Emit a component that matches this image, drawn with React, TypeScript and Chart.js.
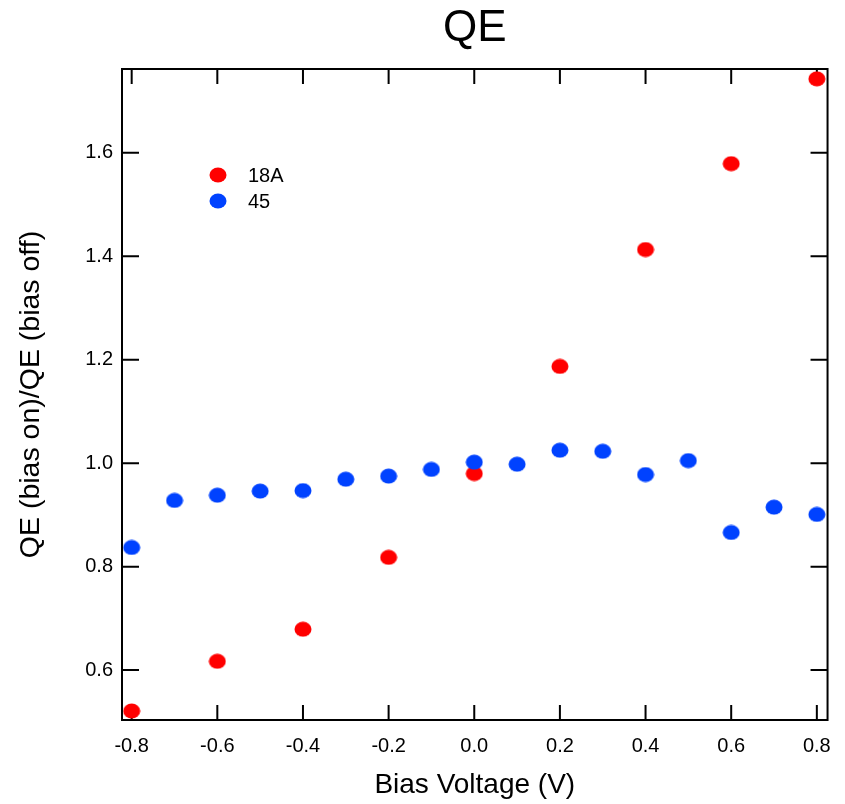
import React, { useEffect, useRef } from "react";
import { Chart, registerables } from "chart.js";

Chart.register(...registerables);

// ---- data ----
const seriesNames = ["18A", "45"];
const biasA = [-0.8, -0.6, -0.4, -0.2, 0.0, 0.2, 0.4, 0.6, 0.8];
const qeA = [0.521, 0.617, 0.679, 0.818, 0.98, 1.187, 1.413, 1.579, 1.743];
const bias45 = [-0.8, -0.7, -0.6, -0.5, -0.4, -0.3, -0.2, -0.1, 0.0, 0.1, 0.2, 0.3, 0.4, 0.5, 0.6, 0.7, 0.8];
const qe45 = [0.837, 0.928, 0.938, 0.946, 0.947, 0.969, 0.975, 0.988, 1.002, 0.998, 1.025, 1.023, 0.978, 1.005, 0.866, 0.915, 0.901];
const xTicks = [-0.8, -0.6, -0.4, -0.2, 0.0, 0.2, 0.4, 0.6, 0.8];
const yTicks = [0.6, 0.8, 1.0, 1.2, 1.4, 1.6];
const xRange = [-0.8226, 0.825];
const yRange = [0.5035, 1.762];
const titleText = "QE";
const xTitle = "Bias Voltage (V)";
const yTitle = "QE (bias on)/QE (bias off)";

const RED = "rgb(255,0,0)";
const BLUE = "rgb(0,66,255)";
const FONT = '"Liberation Sans", Arial, Helvetica, sans-serif';

function makeDot(color: string): HTMLCanvasElement {
  const c = document.createElement("canvas");
  c.width = 18;
  c.height = 16;
  const g = c.getContext("2d")!;
  g.fillStyle = color;
  g.beginPath();
  g.ellipse(9, 8, 8.5, 7.5, 0, 0, Math.PI * 2);
  g.fill();
  return c;
}

export default function App() {
  const ref = useRef<HTMLCanvasElement | null>(null);

  useEffect(() => {
    if (!ref.current) return;
    const dotRed = makeDot(RED);
    const dotBlue = makeDot(BLUE);

    const framePlugin = {
      id: "frame",
      beforeDatasetsDraw(chart: any) {
        const { ctx, chartArea, scales } = chart;
        const { left, right, top, bottom } = chartArea;
        ctx.save();
        ctx.strokeStyle = "#000";
        ctx.lineWidth = 2;
        ctx.strokeRect(left, top, right - left, bottom - top);
        ctx.beginPath();
        const tl = 15;
        xTicks.forEach((v) => {
          const px = scales.x.getPixelForValue(v);
          ctx.moveTo(px, bottom);
          ctx.lineTo(px, bottom - tl);
          ctx.moveTo(px, top);
          ctx.lineTo(px, top + tl);
        });
        yTicks.forEach((v) => {
          const py = scales.y.getPixelForValue(v);
          ctx.moveTo(left, py);
          ctx.lineTo(left + tl + 2, py);
          ctx.moveTo(right, py);
          ctx.lineTo(right - tl - 2, py);
        });
        ctx.stroke();
        ctx.restore();
      },
      afterDraw(chart: any) {
        const { ctx, chartArea } = chart;
        const { left, right } = chartArea;
        ctx.save();
        ctx.fillStyle = "#000";
        ctx.font = `44px ${FONT}`;
        ctx.textAlign = "center";
        ctx.textBaseline = "alphabetic";
        ctx.fillText(titleText, (left + right) / 2, 41);
        // legend
        const lx = 218;
        const rows = [175, 201];
        const dots = [dotRed, dotBlue];
        ctx.font = `20px ${FONT}`;
        ctx.textAlign = "left";
        ctx.textBaseline = "middle";
        rows.forEach((ry, i) => {
          ctx.drawImage(dots[i], lx - dots[i].width / 2, ry - dots[i].height / 2);
          ctx.fillText(seriesNames[i], 248, ry + 1);
        });
        ctx.restore();
      },
    };

    const chart = new Chart(ref.current, {
      type: "scatter",
      data: {
        datasets: [
          {
            label: seriesNames[0],
            data: biasA.map((x, i) => ({ x, y: qeA[i] })),
            pointStyle: dotRed as any,
            pointRadius: 8,
            order: 1,
          },
          {
            label: seriesNames[1],
            data: bias45.map((x, i) => ({ x, y: qe45[i] })),
            pointStyle: dotBlue as any,
            pointRadius: 8,
            order: 0,
          },
        ],
      },
      options: {
        animation: false,
        responsive: false,
        devicePixelRatio: 1,
        layout: { padding: { top: 69, right: 17, left: 0, bottom: 0 } },
        plugins: {
          legend: { display: false },
          tooltip: { enabled: false },
          title: { display: false },
        },
        scales: {
          x: {
            type: "linear",
            min: xRange[0],
            max: xRange[1],
            grid: { display: false, drawTicks: false },
            border: { display: false },
            afterBuildTicks: (s: any) => {
              s.ticks = xTicks.map((v) => ({ value: v }));
            },
            afterFit: (s: any) => {
              s.height = 84;
            },
            ticks: {
              color: "#000",
              font: { family: FONT, size: 20 },
              padding: 14,
              maxRotation: 0,
              autoSkip: false,
              callback: (v: any) => Number(v).toFixed(1),
            },
            title: {
              display: true,
              text: xTitle,
              color: "#000",
              font: { family: FONT, size: 28 },
              padding: { top: 0, bottom: 2 },
            },
          },
          y: {
            type: "linear",
            min: yRange[0],
            max: yRange[1],
            grid: { display: false, drawTicks: false },
            border: { display: false },
            afterBuildTicks: (s: any) => {
              s.ticks = yTicks.map((v) => ({ value: v }));
            },
            afterFit: (s: any) => {
              s.width = 122;
            },
            ticks: {
              color: "#000",
              font: { family: FONT, size: 20 },
              padding: 9,
              autoSkip: false,
              callback: (v: any) => Number(v).toFixed(1),
            },
            title: {
              display: true,
              text: yTitle,
              color: "#000",
              font: { family: FONT, size: 28.5 },
              padding: { top: 14, bottom: 0 },
            },
          },
        },
      },
      plugins: [framePlugin],
    });
    return () => chart.destroy();
  }, []);

  return (
    <div style={{ position: "absolute", left: 0, top: 0, width: 845, height: 804, background: "#fff" }}>
      <canvas ref={ref} width={845} height={804} />
    </div>
  );
}
